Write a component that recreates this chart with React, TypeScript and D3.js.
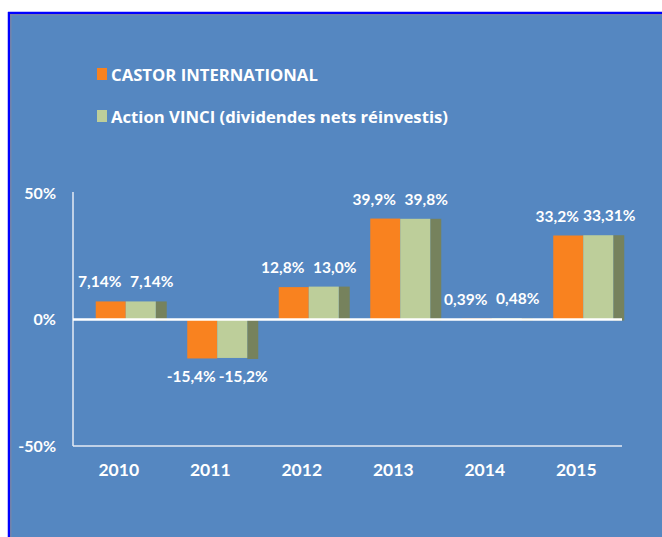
import React from "react";
import * as d3 from "d3";

const years = ["2010", "2011", "2012", "2013", "2014", "2015"];
const castor = [7.14, -15.4, 12.8, 39.9, 0.39, 33.2];
const vinci = [7.14, -15.2, 13.0, 39.8, 0.48, 33.31];
const castorLabels = ["7,14%", "-15,4%", "12,8%", "39,9%", "0,39%", "33,2%"];
const vinciLabels = ["7,14%", "-15,2%", "13,0%", "39,8%", "0,48%", "33,31%"];
const yTicks = [-50, 0, 50];
const seriesNames = ["CASTOR INTERNATIONAL", "Action VINCI (dividendes nets réinvestis)"];

const W = 662;
const H = 537;
const BG = "#5587C1";
const ORANGE = "#F9821F";
const GREEN = "#BDCE9A";
const SIDE = "#76825D";
const FONT = "Lato, 'Open Sans', sans-serif";
const LFONT = "'Open Sans', Lato, sans-serif";

export default function App() {
  const x = d3.scaleBand<string>().domain(years).range([73, 622]).padding(0);
  const y = d3.scaleLinear().domain([-50, 50]).range([446, 193]);
  const bw = 30;
  const depth = 10;
  const shift = 7;

  return (
    <svg width={W} height={H} style={{ position: "absolute", left: 0, top: 0 }}>
      <rect x={0} y={0} width={W} height={H} fill="#fff" />
      <rect x={8} y={12} width={W} height={H} fill={BG} />
      <line x1={9} y1={12} x2={9} y2={H} stroke="#0000FF" strokeWidth={2.5} />
      <line x1={8} y1={13} x2={W} y2={13} stroke="#0000FF" strokeWidth={2.5} />
      <line x1={10.8} y1={14.5} x2={10.8} y2={H} stroke="#8A8A9A" strokeWidth={1} />
      <line x1={10} y1={14.8} x2={W} y2={14.8} stroke="#8A8A9A" strokeWidth={1} />

      {/* legend */}
      {seriesNames.map((name, i) => (
        <g key={name} transform={`translate(0, ${i * 42})`}>
          <rect x={97} y={68} width={10} height={12} fill={i === 0 ? ORANGE : GREEN} />
          <text x={111} y={80.5} fill="#fff" fontFamily={LFONT} fontWeight={700} fontSize={16.7}>
            {name}
          </text>
        </g>
      ))}

      {/* axes */}
      <line x1={x.range()[0]} y1={y(50) - 1} x2={x.range()[0]} y2={y(-50)} stroke="#E4EAF3" strokeWidth={1.5} />
      <line x1={x.range()[0]} y1={y(-50)} x2={x.range()[1]} y2={y(-50)} stroke="#E4EAF3" strokeWidth={1.5} />
      {yTicks.map((t) => (
        <text key={t} x={56} y={y(t) + 5.5} textAnchor="end" fill="#fff" fontFamily={FONT} fontWeight={700} fontSize={16}>
          {`${t}%`}
        </text>
      ))}
      {years.map((yr) => (
        <text key={yr} x={(x(yr) as number) + x.bandwidth() / 2} y={476} textAnchor="middle" fill="#fff" fontFamily={FONT} fontWeight={700} fontSize={17.5}>
          {yr}
        </text>
      ))}

      {/* bars */}
      {years.map((yr, i) => {
        const c = (x(yr) as number) + x.bandwidth() / 2 + shift;
        const ox = c - bw;
        const gx = c;
        const oTop = Math.min(y(castor[i]), y(0));
        const oH = Math.abs(y(castor[i]) - y(0));
        const gTop = Math.min(y(vinci[i]), y(0));
        const gH = Math.abs(y(vinci[i]) - y(0));
        return (
          <g key={yr}>
            <rect x={gx + bw} y={gTop} width={depth + 1} height={gH + 1} fill={SIDE} />
            <rect x={ox} y={oTop} width={bw} height={oH} fill={ORANGE} />
            <rect x={gx} y={gTop} width={bw} height={gH} fill={GREEN} />
          </g>
        );
      })}

      <line x1={x.range()[0]} y1={y(0)} x2={x.range()[1]} y2={y(0)} stroke="#fff" strokeWidth={2.5} />

      {/* labels */}
      {years.map((yr, i) => {
        const c = (x(yr) as number) + x.bandwidth() / 2 + shift;
        const oc = c - bw / 2 - 11;
        const gc = c + bw / 2 + 11;
        const oy = castor[i] >= 0 ? y(castor[i]) - 14 : y(castor[i]) + 24;
        const gy = vinci[i] >= 0 ? y(vinci[i]) - 14 : y(vinci[i]) + 24;
        return (
          <g key={yr} fill="#fff" fontFamily={FONT} fontWeight={700} fontSize={15.5} textAnchor="middle">
            <text x={oc} y={oy}>{castorLabels[i]}</text>
            <text x={gc} y={gy}>{vinciLabels[i]}</text>
          </g>
        );
      })}
    </svg>
  );
}
